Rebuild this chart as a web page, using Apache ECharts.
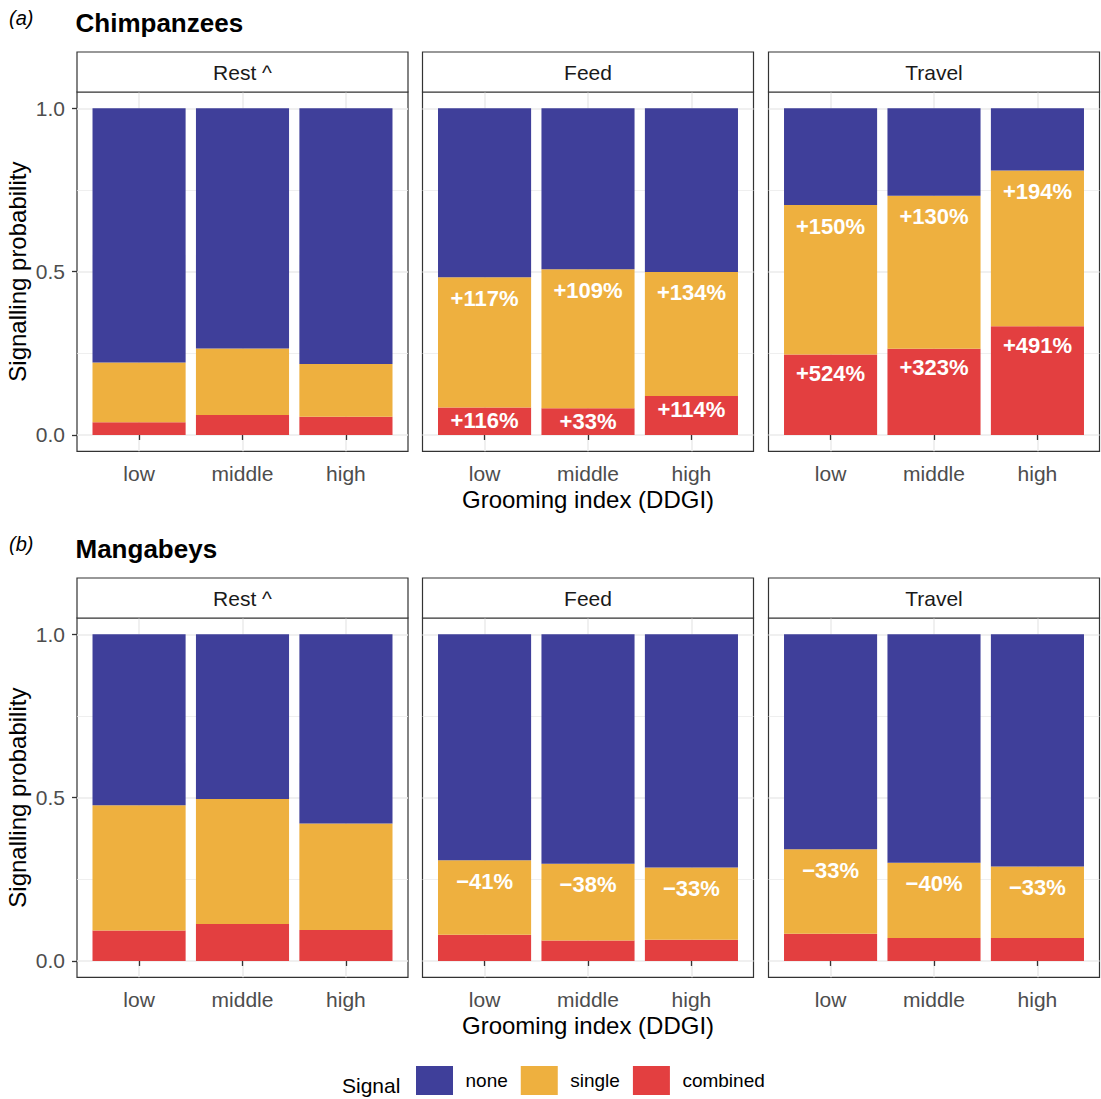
<!DOCTYPE html>
<html><head><meta charset="utf-8">
<script src="https://cdn.jsdelivr.net/npm/echarts@6/dist/echarts.min.js"></script>
<style>html,body{margin:0;padding:0;background:#fff}#chart{width:1101px;height:1099px}</style>
</head><body><div id="chart"></div>
<script>
// ---------- data ----------
const categories = ['low', 'middle', 'high'];
const activities = ['Rest ^', 'Feed', 'Travel'];
const speciesTitles = ['Chimpanzees', 'Mangabeys'];
const panelTags = ['(a)', '(b)'];
const signalNames = ['none', 'single', 'combined'];
const yTicks = [0, 0.5, 1];
const yMinorTicks = [0.25, 0.75];

// rows: Rest, Feed, Travel ; columns: low, middle, high
const chimpCombined = [[0.039, 0.061, 0.056], [0.084, 0.082, 0.119], [0.246, 0.264, 0.333]];
const chimpSingle   = [[0.183, 0.204, 0.161], [0.399, 0.425, 0.380], [0.458, 0.468, 0.477]];
const chimpNone     = [[0.778, 0.735, 0.783], [0.517, 0.493, 0.501], [0.296, 0.268, 0.190]];
const chimpSingleLabels   = [['', '', ''], ['+117%', '+109%', '+134%'], ['+150%', '+130%', '+194%']];
const chimpCombinedLabels = [['', '', ''], ['+116%', '+33%', '+114%'], ['+524%', '+323%', '+491%']];

const mangCombined = [[0.093, 0.113, 0.095], [0.080, 0.063, 0.065], [0.083, 0.070, 0.070]];
const mangSingle   = [[0.384, 0.383, 0.326], [0.228, 0.235, 0.221], [0.259, 0.231, 0.219]];
const mangNone     = [[0.523, 0.504, 0.579], [0.692, 0.702, 0.714], [0.658, 0.699, 0.711]];
const mangSingleLabels   = [['', '', ''], ['\u221241%', '\u221238%', '\u221233%'], ['\u221233%', '\u221240%', '\u221233%']];
const mangCombinedLabels = [['', '', ''], ['', '', ''], ['', '', '']];

// ---------- style / layout ----------
const COLORS = { none: '#3f3f9a', single: '#eeb03f', combined: '#e33f40' };
const FONT = '"Liberation Sans", Arial, Helvetica, sans-serif';
const colLeft = [77, 422.5, 768.5];
const panelW = 331;
const rowTop = [92, 618];
const panelH = 359.3;
const stripH = 40;
const GRID_COL = '#ebebeb';
const DARK = '#333333';

const species = [
  { combined: chimpCombined, single: chimpSingle, none: chimpNone, singleLabels: chimpSingleLabels, combinedLabels: chimpCombinedLabels },
  { combined: mangCombined, single: mangSingle, none: mangNone, singleLabels: mangSingleLabels, combinedLabels: mangCombinedLabels }
];

const catPositions = categories.map((_, i) => i + 1);
const grids = [], xAxes = [], yAxes = [], series = [], graphics = [];

for (let r = 0; r < 2; r++) {
  for (let c = 0; c < 3; c++) {
    const k = r * 3 + c;
    // outer panel grid (border, gridlines, axes)
    grids[k] = {
      left: colLeft[c], top: rowTop[r], width: panelW, height: panelH,
      show: true, borderColor: DARK, borderWidth: 1.2, backgroundColor: 'rgba(0,0,0,0)',
      containLabel: false, outerBoundsMode: 'none'
    };
    // inner grid hosting the bars (discrete expansion 0.6 on each side)
    grids[6 + k] = {
      left: colLeft[c] + panelW * 0.1 / 3.2, top: rowTop[r], width: panelW * 3 / 3.2, height: panelH,
      show: false, containLabel: false, outerBoundsMode: 'none'
    };

    xAxes[k] = {
      gridIndex: k, type: 'value', min: 0.4, max: 3.6,
      axisLine: { show: false },
      axisTick: { show: true, customValues: catPositions, length: 5, lineStyle: { color: DARK, width: 1.3 } },
      axisLabel: { show: true, customValues: catPositions, formatter: v => categories[Math.round(v) - 1],
        fontSize: 21, lineHeight: 21, color: '#4d4d4d', margin: 12, fontFamily: FONT },
      splitLine: { show: true, lineStyle: { color: GRID_COL, width: 1.5 } },
      name: c === 1 ? 'Grooming index (DDGI)' : '', nameLocation: 'middle', nameGap: 36,
      nameTextStyle: { fontSize: 24, lineHeight: 24, color: '#000', fontFamily: FONT }
    };
    xAxes[6 + k] = { gridIndex: 6 + k, type: 'category', data: categories, show: false };

    yAxes[2 * k] = {
      gridIndex: k, type: 'value', min: -0.05, max: 1.05, position: 'left',
      axisLine: { show: false },
      axisTick: { show: c === 0, customValues: yTicks, length: 5, lineStyle: { color: DARK, width: 1.3 } },
      axisLabel: { show: c === 0, customValues: yTicks, formatter: v => v.toFixed(1),
        fontSize: 21, lineHeight: 21, color: '#4d4d4d', margin: 12, fontFamily: FONT },
      splitLine: { show: true, lineStyle: { color: GRID_COL, width: 1.5 } },
      name: c === 0 ? 'Signalling probability' : '', nameLocation: 'middle', nameRotate: 90, nameGap: 48,
      nameTextStyle: { fontSize: 24, lineHeight: 24, color: '#000', fontFamily: FONT }
    };
    yAxes[2 * k + 1] = {
      gridIndex: k, type: 'value', min: -0.05, max: 1.05, position: 'right',
      axisLine: { show: false },
      axisTick: { show: false, customValues: yMinorTicks },
      axisLabel: { show: false, customValues: yMinorTicks },
      splitLine: { show: true, lineStyle: { color: GRID_COL, width: 0.8 } }
    };
    yAxes[12 + k] = { gridIndex: 6 + k, type: 'value', min: -0.05, max: 1.05, show: false };

    const sp = species[r];
    const labelStyle = (dist, texts) => ({
      show: true, position: 'insideTop', distance: dist,
      formatter: p => texts[c][p.dataIndex],
      color: '#fff', fontWeight: 'bold', fontSize: 22, lineHeight: 22, fontFamily: FONT
    });
    const common = { type: 'bar', xAxisIndex: 6 + k, yAxisIndex: 12 + k, stack: 'p' + k, barWidth: '90%' };
    series.push(Object.assign({}, common, {
      name: 'combined', data: sp.combined[c], itemStyle: { color: COLORS.combined },
      label: labelStyle(c === 1 ? 2 : 8, sp.combinedLabels)
    }));
    series.push(Object.assign({}, common, {
      name: 'single', data: sp.single[c], itemStyle: { color: COLORS.single },
      label: labelStyle(10, sp.singleLabels)
    }));
    series.push(Object.assign({}, common, {
      name: 'none', data: sp.none[c], itemStyle: { color: COLORS.none }
    }));

    // facet strip
    graphics.push({
      type: 'rect', z: 10,
      shape: { x: colLeft[c], y: rowTop[r] - stripH, width: panelW, height: stripH },
      style: { fill: '#fff', stroke: DARK, lineWidth: 1.2 }
    });
    graphics.push({
      type: 'text', z: 11, x: colLeft[c] + panelW / 2, y: rowTop[r] - stripH / 2,
      style: { text: activities[c], fill: '#1a1a1a', font: '21px ' + FONT,
        align: 'center', verticalAlign: 'middle', textAlign: 'center', textVerticalAlign: 'middle' }
    });
  }
  // row tag and title
  graphics.push({
    type: 'text', z: 11, x: 9, y: rowTop[r] - 74,
    style: { text: panelTags[r], fill: '#000', font: 'italic 20px ' + FONT,
      align: 'left', verticalAlign: 'middle', textAlign: 'left', textVerticalAlign: 'middle' }
  });
  graphics.push({
    type: 'text', z: 11, x: 75.5, y: rowTop[r] - 69.5,
    style: { text: speciesTitles[r], fill: '#000', font: 'bold 26px ' + FONT,
      align: 'left', verticalAlign: 'middle', textAlign: 'left', textVerticalAlign: 'middle' }
  });
}

graphics.push({
  type: 'text', z: 11, x: 342, y: 1085,
  style: { text: 'Signal', fill: '#000', font: '21px ' + FONT,
    align: 'left', verticalAlign: 'middle', textAlign: 'left', textVerticalAlign: 'middle' }
});

const option = {
  animation: false,
  backgroundColor: '#fff',
  textStyle: { fontFamily: FONT },
  grid: grids,
  xAxis: xAxes,
  yAxis: yAxes,
  series: series,
  legend: {
    data: signalNames, orient: 'horizontal', left: 416, top: 1066, padding: 0,
    icon: 'rect', itemWidth: 37, itemHeight: 29, itemGap: 13,
    textStyle: { fontSize: 19, color: '#000', fontFamily: FONT, padding: [6, 0, 0, 7.5] },
    selectedMode: false
  },
  graphic: graphics
};

const chart = echarts.init(document.getElementById('chart'), null, { renderer: 'svg' });
chart.setOption(option);
</script>
</body></html>
